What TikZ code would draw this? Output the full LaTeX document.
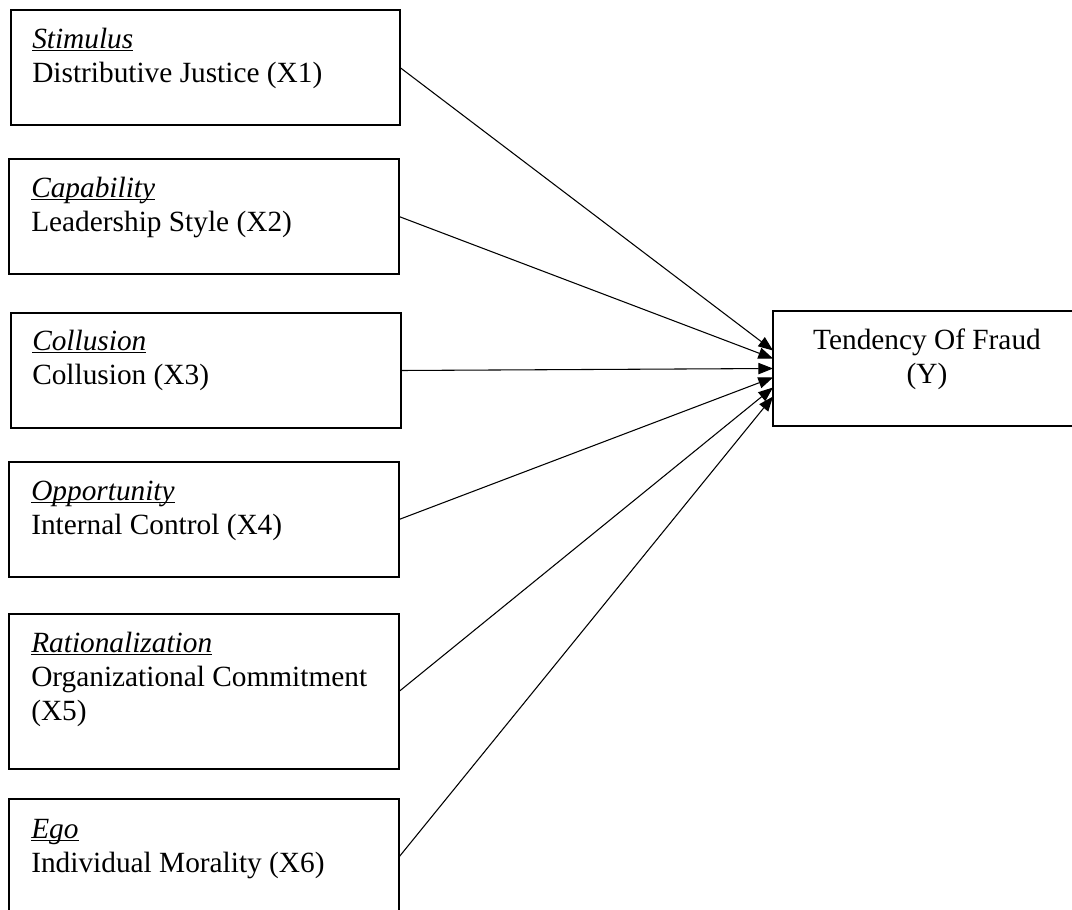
\documentclass[tikz,border=0pt]{standalone}
\usepackage{fontspec}
\setmainfont{Liberation Serif}
\newcommand\myul[1]{\underline{\smash{\textit{#1}}}}
\usetikzlibrary{arrows.meta,calc}
\begin{document}
\begin{tikzpicture}[x=0.75pt,y=-0.75pt,
  boxstyle/.style={draw,line width=2.1pt,inner sep=0pt,outer sep=0pt},
  txt/.style={inner sep=0pt,anchor=base west,font=\fontsize{22}{25.5}\selectfont},
  ytxt/.style={inner sep=0pt,anchor=base,font=\fontsize{22}{25.5}\selectfont},
  link/.style={line width=0.8pt,-{Triangle[length=11pt,width=8.5pt]}}]
\useasboundingbox (0,0) rectangle (1072,910);

\node[boxstyle,minimum width=291.75pt,minimum height=86.25pt] (b1) at (205.5,67.5) {};
\node[boxstyle,minimum width=292.5pt,minimum height=86.25pt] (b2) at (204,216.5) {};
\node[boxstyle,minimum width=292.5pt,minimum height=86.25pt] (b3) at (206,370.5) {};
\node[boxstyle,minimum width=292.5pt,minimum height=86.25pt] (b4) at (204,519.5) {};
\node[boxstyle,minimum width=292.5pt,minimum height=116.25pt] (b5) at (204,691.5) {};
\node[boxstyle,minimum width=292.5pt,minimum height=87pt] (b6) at (204,857) {};
\node[boxstyle,minimum width=231pt,minimum height=86.25pt] (Y) at (927,368.5) {};

\node[txt] (t1) at (32,48) {\parbox[t]{280pt}{\myul{Stimulus}\\Distributive Justice (X1)}};
\node[txt] (t2) at (31,197) {\parbox[t]{280pt}{\myul{Capability}\\Leadership Style (X2)}};
\node[txt] (t3) at (32,350) {\parbox[t]{280pt}{\myul{Collusion}\\Collusion (X3)}};
\node[txt] (t4) at (31,500) {\parbox[t]{280pt}{\myul{Opportunity}\\Internal Control (X4)}};
\node[txt] (t5) at (31,652) {\parbox[t]{280pt}{\myul{Rationalization}\\Organizational Commitment\\(X5)}};
\node[txt] (t6) at (31,838) {\parbox[t]{280pt}{\myul{Ego}\\Individual Morality (X6)}};
\node[ytxt] (ty) at (927,349) {\parbox[t]{220pt}{\centering Tendency Of Fraud\\(Y)}};

\draw[link] (b1.east) -- ($(Y.west)+(0,-18)$);
\draw[link] (b2.east) -- ($(Y.west)+(0,-10)$);
\draw[link] (b3.east) -- ($(Y.west)+(0,0)$);
\draw[link] (b4.east) -- ($(Y.west)+(0,9)$);
\draw[link] (b5.east) -- ($(Y.west)+(0,19)$);
\draw[link] (b6.east) -- ($(Y.west)+(0,28)$);
\end{tikzpicture}
\end{document}
